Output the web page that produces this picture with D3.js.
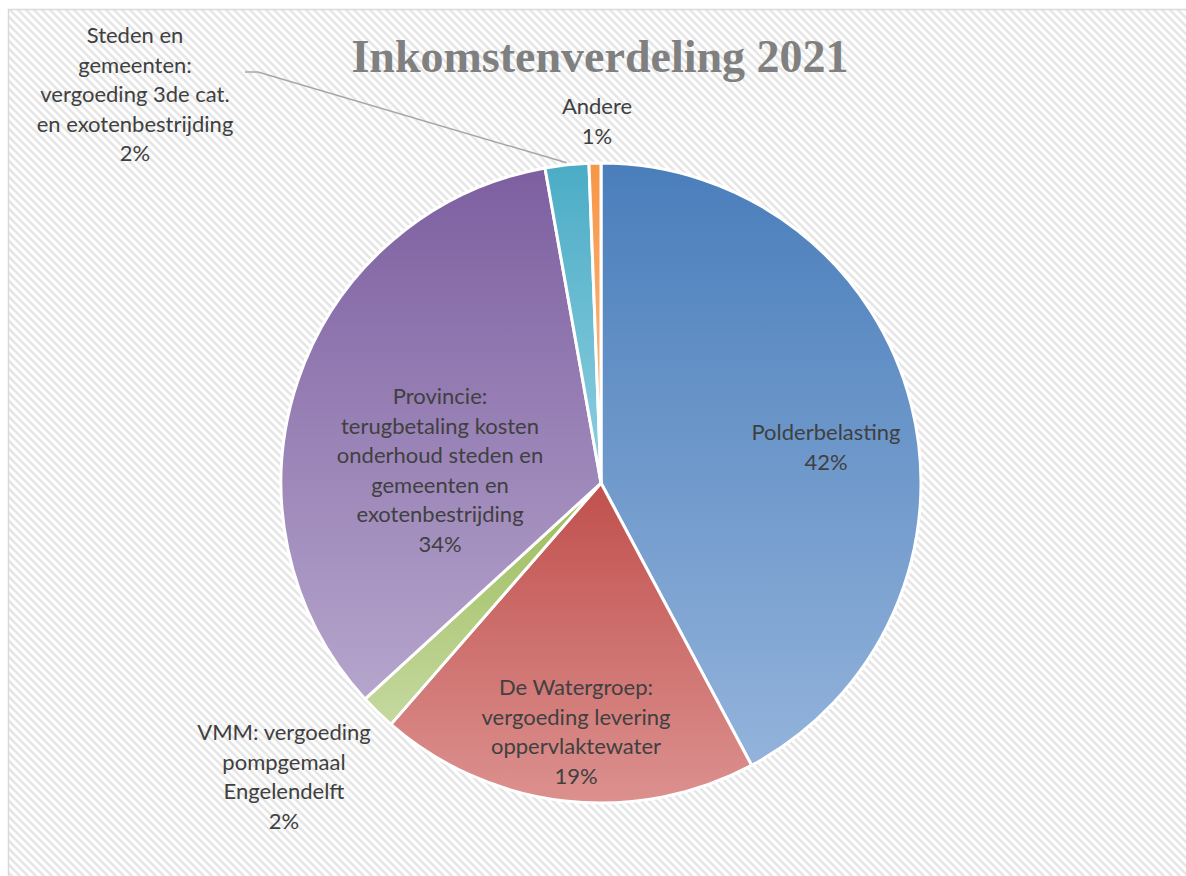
<!DOCTYPE html>
<html>
<head>
<meta charset="utf-8">
<script src="https://cdn.jsdelivr.net/npm/d3@7"></script>
<style>
  body { margin: 0; background: #fff; }
  svg text { font-family: Lato, "Open Sans", sans-serif; }
</style>
</head>
<body>
<div id="viz"></div>
<script>
// data (percent of total income)
var categories = [
  'Polderbelasting',
  'De Watergroep: vergoeding levering oppervlaktewater',
  'VMM: vergoeding pompgemaal Engelendelft',
  'Provincie: terugbetaling kosten onderhoud steden en gemeenten en exotenbestrijding',
  'Steden en gemeenten: vergoeding 3de cat. en exotenbestrijding',
  'Andere'
];
var values = [42.2, 19.2, 1.8, 34.0, 2.2, 0.6];
var pctLabels = ['42%', '19%', '2%', '34%', '2%', '1%'];
var labelLines = [
  ['Polderbelasting'],
  ['De Watergroep:', 'vergoeding levering', 'oppervlaktewater'],
  ['VMM: vergoeding', 'pompgemaal', 'Engelendelft'],
  ['Provincie:', 'terugbetaling kosten', 'onderhoud steden en', 'gemeenten en', 'exotenbestrijding'],
  ['Steden en', 'gemeenten:', 'vergoeding 3de cat.', 'en exotenbestrijding'],
  ['Andere']
];
var title = 'Inkomstenverdeling 2021';

var width = 1186, height = 876;
var cx = 601, cy = 483, radius = 320;

// dark (top) / light (bottom) per slice
var colorsTop = ['#4a7ebb', '#c0504d', '#9bbb59', '#7d5fa0', '#4bacc6', '#f79646'];
var colorsBottom = ['#93b3db', '#dc918f', '#c5d9a0', '#b5a5cc', '#8fcfe0', '#fac090'];

// label centres (first line), placed as in the original
var labelPos = [
  [826, 433], [576, 688], [284, 733], [440, 397], [135, 36], [597, 107]
];
var lineH = 29.6;

var svg = d3.select('#viz').append('svg')
  .attr('width', width)
  .attr('height', height);

var defs = svg.append('defs');

// light diagonal hatching of the chart area
var pat = defs.append('pattern')
  .attr('id', 'hatch')
  .attr('patternUnits', 'userSpaceOnUse')
  .attr('width', 8)
  .attr('height', 8);
pat.append('rect').attr('width', 8).attr('height', 8).attr('fill', '#fff');
pat.append('path')
  .attr('d', 'M-2,-2 L10,10 M-6,2 L2,10 M6,-2 L14,6')
  .attr('stroke', '#e6e6e6')
  .attr('stroke-width', 2.6);

colorsTop.forEach(function(c, i) {
  var g = defs.append('linearGradient')
    .attr('id', 'grad' + i)
    .attr('x1', 0).attr('y1', 0).attr('x2', 0).attr('y2', 1);
  g.append('stop').attr('offset', '0%').attr('stop-color', c);
  g.append('stop').attr('offset', '100%').attr('stop-color', colorsBottom[i]);
});

svg.append('rect')
  .attr('x', 8.5).attr('y', 9.5)
  .attr('width', 1200).attr('height', 900)
  .attr('fill', 'url(#hatch)')
  .attr('stroke', '#d9d9d9')
  .attr('stroke-width', 1.5);

svg.append('text')
  .attr('x', 600)
  .attr('y', 72)
  .attr('text-anchor', 'middle')
  .style('font-family', '"Liberation Serif", "DejaVu Serif", serif')
  .style('font-weight', 'bold')
  .style('font-size', '46px')
  .attr('fill', '#808080')
  .text(title);

var pie = d3.pie().sort(null).value(function(d) { return d; });
var arc = d3.arc().innerRadius(0).outerRadius(radius);
var arcs = pie(values);

var pieG = svg.append('g')
  .attr('transform', 'translate(' + cx + ',' + cy + ')');

pieG.selectAll('path')
  .data(arcs)
  .enter().append('path')
  .attr('d', arc)
  .attr('fill', function(d, i) { return 'url(#grad' + i + ')'; })
  .attr('stroke', '#fff')
  .attr('stroke-width', 3)
  .attr('stroke-linejoin', 'round');

// leader line for the small "Steden en gemeenten" slice
var sl = arcs[4];
var mid = (sl.startAngle + sl.endAngle) / 2;
var ex = cx + Math.sin(mid) * (radius + 2), ey = cy - Math.cos(mid) * (radius + 2);
svg.append('polyline')
  .attr('points', [[245, 72], [258, 72], [ex, ey]].join(' '))
  .attr('fill', 'none')
  .attr('stroke', '#a6a6a6')
  .attr('stroke-width', 1.5);

var labels = svg.append('g');
labelLines.forEach(function(lines, i) {
  var t = labels.append('text')
    .attr('text-anchor', 'middle')
    .attr('fill', '#404040')
    .style('font-size', '22px');
  lines.concat([pctLabels[i]]).forEach(function(s, j) {
    t.append('tspan')
      .attr('x', labelPos[i][0])
      .attr('y', labelPos[i][1] + j * lineH + 7)
      .text(s);
  });
});
</script>
</body>
</html>
